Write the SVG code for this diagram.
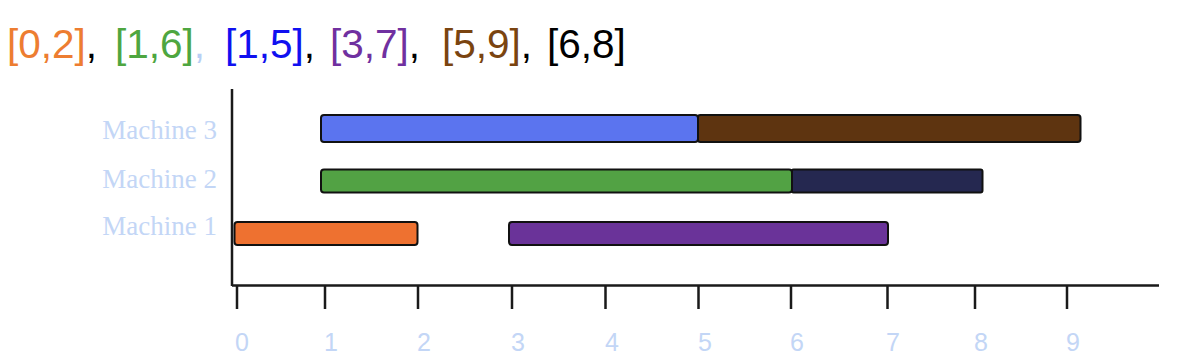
<svg xmlns="http://www.w3.org/2000/svg" width="1180" height="364" viewBox="0 0 1180 364">
<style>
.title{font-family:"Liberation Sans",Arial,sans-serif;font-size:40.5px}
.mlab{font-family:"Liberation Serif","Times New Roman",serif;font-size:27px;fill:#c3d6f6;text-anchor:end}
.tlab{font-family:"Liberation Sans",Arial,sans-serif;font-size:25px;fill:#c3d6f6;text-anchor:middle}
.bar{stroke:#111;stroke-width:2}
.axis{stroke:#1a1a1a;stroke-width:2.5;fill:none}
</style>
<rect width="1180" height="364" fill="#fff"/>
<g id="title" class="title">
<text x="7" y="58" fill="#ed7d31">[0,2]<tspan fill="#000">,</tspan></text>
<text x="115" y="58" fill="#4ea640">[1,6]<tspan fill="#b8cff5">,</tspan></text>
<text x="225" y="58" fill="#1010f0">[1,5]<tspan fill="#000">,</tspan></text>
<text x="330" y="58" fill="#7030a0">[3,7]<tspan fill="#000">,</tspan></text>
<text x="442" y="58" fill="#7a4410">[5,9]<tspan fill="#000">,</tspan></text>
<text x="547" y="58" fill="#000">[6,8]</text>
</g>
<g id="machine-labels">
<text class="mlab" x="217" y="139">Machine 3</text>
<text class="mlab" x="217" y="188">Machine 2</text>
<text class="mlab" x="217" y="235">Machine 1</text>
</g>
<g id="axes">
<path class="axis" d="M232 89 V286 M232 285.5 H1159"/>
<path class="axis" d="M237 286 V309 M325 286 V309 M418 286 V309 M512 286 V309 M605.5 286 V309 M698.5 286 V309 M791 286 V309 M887.5 286 V309 M975 286 V309 M1067 286 V309"/>
</g>
<g id="tick-labels">
<text class="tlab" x="242" y="351">0</text>
<text class="tlab" x="331" y="351">1</text>
<text class="tlab" x="424" y="351">2</text>
<text class="tlab" x="518" y="351">3</text>
<text class="tlab" x="612" y="351">4</text>
<text class="tlab" x="705" y="351">5</text>
<text class="tlab" x="797" y="351">6</text>
<text class="tlab" x="893" y="351">7</text>
<text class="tlab" x="981" y="351">8</text>
<text class="tlab" x="1073" y="351">9</text>
</g>
<g id="bar-5-9"><rect class="bar" x="697.5" y="115" width="383" height="27" rx="3" fill="#5e3410"/></g>
<g id="bar-1-5"><rect class="bar" x="321" y="115" width="377" height="27" rx="3" fill="#5b74ef"/></g>
<g id="bar-6-8"><rect class="bar" x="791.5" y="169.5" width="191" height="23" rx="2" fill="#252850"/></g>
<g id="bar-1-6"><rect class="bar" x="321" y="169.5" width="471" height="23" rx="3" fill="#52a244"/></g>
<g id="bar-0-2"><rect class="bar" x="234.5" y="222" width="183" height="23" rx="3" fill="#ee7130"/></g>
<g id="bar-3-7"><rect class="bar" x="509" y="222" width="379" height="23" rx="3" fill="#6a3399"/></g>
</svg>
